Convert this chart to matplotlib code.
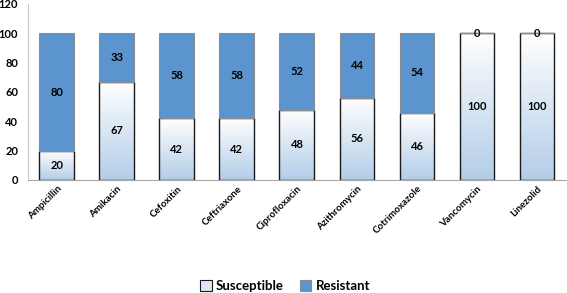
import numpy as np
import matplotlib.pyplot as plt
from matplotlib.patches import Patch
from matplotlib.colors import LinearSegmentedColormap

drugs = ["Ampicillin", "Amikacin", "Cefoxitin", "Ceftriaxone", "Ciprofloxacin",
         "Azithromycin", "Cotrimoxazole", "Vancomycin", "Linezolid"]
susceptible = [20, 67, 42, 42, 48, 56, 46, 100, 100]
resistant = [80, 33, 58, 58, 52, 44, 54, 0, 0]

plt.rcParams['font.family'] = ['Lato', 'DejaVu Sans']

fig = plt.figure(figsize=(5.67, 2.93), dpi=100)
ax = fig.add_axes([28 / 567, 113 / 293, 539 / 567, 176 / 293])

x = np.arange(len(drugs))
w = 0.58

# light gradient for the susceptible bars (white at top, pale blue at bottom)
grad = np.linspace(0, 1, 256).reshape(-1, 1)
cm_s = LinearSegmentedColormap.from_list("s", ["#ffffff", "#b3cde8"])

bars_s = ax.bar(x, susceptible, w, color="none", edgecolor="#1a1a1a", linewidth=1.0, zorder=3)
bars_r = ax.bar(x, resistant, w, bottom=susceptible, color="#5b94cf", edgecolor="#8c8c8c",
                linewidth=0.8, zorder=3)

for b in bars_s:
    bx, by = b.get_x(), b.get_y()
    bw, bh = b.get_width(), b.get_height()
    im = ax.imshow(grad, cmap=cm_s, aspect="auto", extent=[bx, bx + bw, by, by + bh],
                   origin="upper", zorder=2)
    im.set_clip_path(b)

for xi, s, r in zip(x, susceptible, resistant):
    ax.text(xi, s / 2, str(s), ha="center", va="center", fontsize=8, fontweight="bold", zorder=5)
    ax.text(xi, s + r / 2, str(r), ha="center", va="center", fontsize=8, fontweight="bold", zorder=5)

ax.set_xlim(-0.48, 8.5)
ax.set_ylim(0, 120)
ax.set_yticks(range(0, 121, 20))
ax.set_xticks(x)
ax.set_xticklabels(drugs, rotation=45, ha="right", rotation_mode="anchor", fontsize=7, fontweight="bold")
for lbl in ax.get_yticklabels():
    lbl.set_fontweight("bold")
    lbl.set_fontsize(8)
ax.tick_params(length=0, pad=7)
ax.tick_params(axis="x", pad=3)
ax.spines["top"].set_visible(False)
ax.spines["right"].set_visible(False)
ax.spines["left"].set_color("#c8c8c8")
ax.spines["bottom"].set_color("#a6a6a6")

handles = [Patch(facecolor="#dbe7f4", edgecolor="#1a1a1a", linewidth=0.8, label="Susceptible"),
           Patch(facecolor="#5b94cf", edgecolor="#8c8c8c", linewidth=0.8, label="Resistant")]
fig.legend(handles=handles, loc="center", bbox_to_anchor=(285 / 567, 1 - 286 / 293), ncol=2,
           frameon=False, prop={"size": 9.5, "weight": "bold"}, handlelength=0.9, handleheight=0.9,
           handletextpad=0.3, columnspacing=1.2)

fig.savefig("out.png", dpi=100)
